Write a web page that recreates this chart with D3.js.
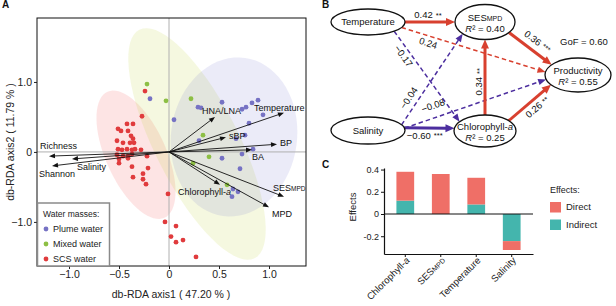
<!DOCTYPE html>
<html>
<head>
<meta charset="utf-8">
<script src="https://cdn.jsdelivr.net/npm/d3@7"></script>
<style>
body { margin: 0; background: #fff; }
svg { font-family: "Liberation Sans", Arial, sans-serif; }
</style>
</head>
<body>
<svg id="chart" width="616" height="306"></svg>
<script>
// PANEL A DATA (db-RDA site scores) ------------------------------------------------
const plumeWater = [[-0.19,0.76],[0.05,0.46],[0.29,0.64],[0.32,0.63],[0.53,0.71],[0.73,0.61],[0.77,0.64],
  [0.83,0.70],[0.89,0.74],[0.94,0.53],[0.80,0.41],[0.30,0.16],[0.76,0.24],[0.67,0.19],[0.84,0.04],
  [0.73,-0.03],[0.53,-0.09],[0.71,-0.24],[0.64,-0.53],[0.69,-0.57],[0.63,-0.64]];
const mixedWater = [[-0.22,0.97],[-0.03,0.73],[0.22,0.76],[0.34,0.24],[0.40,-0.07],[0.24,-0.16],[0.58,-0.47]];
const scsWater = [[-0.24,0.87],[-0.27,0.51],[-0.42,0.40],[-0.36,0.40],[-0.51,0.33],[-0.48,0.30],[-0.41,0.30],
  [-0.38,0.23],[-0.36,0.19],[-0.52,0.16],[-0.46,0.13],[-0.39,0.13],[-0.35,0.13],[-0.51,0.04],[-0.47,0.03],
  [-0.42,0.04],[-0.37,0.03],[-0.34,0.04],[-0.28,0.03],[-0.52,-0.04],[-0.46,-0.06],[-0.41,-0.06],[-0.37,-0.03],
  [-0.22,-0.06],[-0.50,-0.10],[-0.41,-0.09],[-0.50,-0.16],[-0.37,-0.21],[-0.21,-0.23],[-0.26,-0.31],
  [-0.36,-0.36],[-0.26,-0.39],[-0.23,-0.46],[-0.01,-0.60],[-0.04,-1.00],[0.07,-1.06],[0.02,-1.21],
  [0.07,-1.29],[0.14,-1.26],[0.27,-1.50]];

// explanatory vectors (biplot scores)
const envNames = ["HNA/LNA", "Temperature", "sBP", "BP", "BA", "Richness", "Shannon", "Salinity", "Chlorophyll-a", "SESMPD", "MPD"];
const envAxis1 = [0.46, 1.15, 0.57, 1.08, 0.83, -1.20, -1.17, -0.97, 0.51, 1.15, 1.00];
const envAxis2 = [0.50, 0.56, 0.21, 0.11, 0.03, -0.06, -0.20, -0.10, -0.47, -0.64, -0.79];

// group ellipses (centre + two semi-axis vectors, in axis units)
const scsEllipse = { center: [-0.33, -0.04], axisA: [0.285, -0.90], axisB: [0.274, 0.177] };
const mixedEllipse = { center: [0.28, 0.114], axisA: [0.576, -1.633], axisB: [0.375, 0.27] };
const plumeEllipse = { center: [0.65, 0.214], axisA: [0.11, 1.13], axisB: [0.624, -0.126] };

const axisATicksX = [-1, -0.5, 0, 0.5, 1];
const axisATicksY = [-1, 0, 1];

// PANEL B DATA (PLS-PM) ----------------------------------------------------------
const pathFrom = ["Temperature", "SESMPD", "Temperature", "Temperature", "Salinity", "Salinity", "Salinity", "Chlorophyll-a", "Chlorophyll-a"];
const pathTo = ["SESMPD", "Productivity", "Productivity", "Chlorophyll-a", "SESMPD", "Productivity", "Chlorophyll-a", "SESMPD", "Productivity"];
const pathCoef = [0.42, 0.36, 0.24, -0.17, -0.04, -0.08, -0.60, 0.34, 0.26];
const pathSig = ["**", "***", "", "", "", "", "***", "**", "**"];
const nodeR2 = { "SESMPD": 0.40, "Chlorophyll-a": 0.25, "Productivity": 0.55 };
const gof = 0.60;

// PANEL C DATA (effects on productivity) -----------------------------------------
const effectVars = ["Chlorophyll-a", "SESMPD", "Temperature", "Salinity"];
const directEffect = [0.26, 0.36, 0.24, -0.08];
const indirectEffect = [0.12, 0, 0.086, -0.244];
const effectTicks = [-0.2, 0, 0.2, 0.4];

const svg = d3.select("#chart");
const defs = svg.append("defs");

// helper: rich labels with small-caps "MPD" and italic "a"
function richText(sel, name, small) {
    if (name === "SESMPD") {
        sel.append("tspan").text("SES");
        sel.append("tspan").attr("font-size", small).text("MPD");
    } else if (name === "Chlorophyll-a") {
        sel.append("tspan").text("Chlorophyll-");
        sel.append("tspan").attr("font-style", "italic").text("a");
    } else {
        sel.text(name);
    }
}

//PANEL A ---------------------------------------------------------------------------
const xA = d3.scaleLinear().domain([-1.32, 1.37]).range([37, 306]);
const yA = d3.scaleLinear().domain([1.914, -1.63]).range([18, 266]);

defs.append("clipPath").attr("id", "clipA")
    .append("rect").attr("x", 37).attr("y", 18).attr("width", 269).attr("height", 248);

const gA = svg.append("g");
const plotA = gA.append("g").attr("clip-path", "url(#clipA)");

const ellipseLine = d3.line().x(p => xA(p[0])).y(p => yA(p[1])).curve(d3.curveLinearClosed);
const ellipsePts = e => d3.range(72).map(i => {
    const t = i / 72 * 2 * Math.PI;
    return [e.center[0] + Math.cos(t) * e.axisA[0] + Math.sin(t) * e.axisB[0],
            e.center[1] + Math.cos(t) * e.axisA[1] + Math.sin(t) * e.axisB[1]];
});

plotA.append("path").attr("d", ellipseLine(ellipsePts(scsEllipse))).attr("fill", "rgba(240,90,90,0.16)");
plotA.append("path").attr("d", ellipseLine(ellipsePts(mixedEllipse))).attr("fill", "rgba(195,210,60,0.16)");
plotA.append("path").attr("d", ellipseLine(ellipsePts(plumeEllipse))).attr("fill", "rgba(120,120,205,0.15)");

// zero lines
plotA.append("line").attr("x1", xA(0)).attr("x2", xA(0)).attr("y1", 18).attr("y2", 266)
    .attr("stroke", "#b0b0b0").attr("stroke-width", 1);
plotA.append("line").attr("x1", 37).attr("x2", 306).attr("y1", yA(0)).attr("y2", yA(0))
    .attr("stroke", "#b0b0b0").attr("stroke-width", 1);

const groups = [
    { name: "Plume water", pts: plumeWater, color: "#7672c4" },
    { name: "Mixed water", pts: mixedWater, color: "#8dbf44" },
    { name: "SCS water", pts: scsWater, color: "#e03b3d" }
];
groups.forEach(gr => {
    plotA.selectAll(null).data(gr.pts).enter().append("circle")
        .attr("cx", d => xA(d[0])).attr("cy", d => yA(d[1])).attr("r", 2.4)
        .attr("fill", gr.color);
});

// arrows
const labelOffsetA = {
    "HNA/LNA": [-13, -6], "Temperature": [-30, -5], "sBP": [3, -1], "BP": [3, -1], "BA": [0, 7],
    "Richness": [-9, -10], "Shannon": [-13, 8], "Salinity": [5, 8], "Chlorophyll-a": [-42, 7],
    "SESMPD": [-11, -9], "MPD": [3, 7]
};
envNames.forEach((name, i) => {
    const x0 = xA(0), y0 = yA(0), x1 = xA(envAxis1[i]), y1 = yA(envAxis2[i]);
    const len = Math.hypot(x1 - x0, y1 - y0);
    const ux = (x1 - x0) / len, uy = (y1 - y0) / len;
    const hl = 6, hw = 2.4;
    plotA.append("line").attr("x1", x0).attr("y1", y0)
        .attr("x2", x1 - ux * hl * 0.8).attr("y2", y1 - uy * hl * 0.8)
        .attr("stroke", "#111").attr("stroke-width", 0.9);
    const bx = x1 - ux * hl, by = y1 - uy * hl;
    plotA.append("path")
        .attr("d", `M${x1},${y1}L${bx - uy * hw},${by + ux * hw}L${bx + uy * hw},${by - ux * hw}Z`)
        .attr("fill", "#111");
    const off = labelOffsetA[name];
    const t = gA.append("text").attr("x", x1 + off[0]).attr("y", y1 + off[1])
        .attr("dy", "0.35em").attr("font-size", 9).attr("fill", "#111");
    richText(t, name, 6.5);
});

// frame
gA.append("rect").attr("x", 37).attr("y", 18).attr("width", 269).attr("height", 248)
    .attr("fill", "none").attr("stroke", "#111").attr("stroke-width", 1);

// axes
const fmtA = d => d === 0 ? "0" : d3.format(".1f")(d);
const xAxisA = gA.append("g").attr("transform", "translate(0,266)")
    .call(d3.axisBottom(xA).tickValues(axisATicksX).tickFormat(fmtA).tickSize(3).tickPadding(2));
const yAxisA = gA.append("g").attr("transform", "translate(37,0)")
    .call(d3.axisLeft(yA).tickValues(axisATicksY).tickFormat(fmtA).tickSize(3).tickPadding(2));
[xAxisA, yAxisA].forEach(ax => {
    ax.select(".domain").remove();
    ax.selectAll("text").attr("font-size", 10.5).attr("fill", "#222").attr("font-family", null);
    ax.selectAll("line").attr("stroke", "#222");
});

gA.append("text").attr("x", 171).attr("y", 294).attr("dy", "0.35em").attr("text-anchor", "middle")
    .attr("font-size", 10.5).attr("fill", "#222").text("db-RDA axis1 ( 47.20 % )");
gA.append("text").attr("transform", "translate(10,142) rotate(-90)").attr("dy", "0.35em")
    .attr("text-anchor", "middle").attr("font-size", 10.5).attr("fill", "#222").text("db-RDA axis2 ( 11.79 % )");

// legend
const legA = gA.append("g");
legA.append("rect").attr("x", 37.5).attr("y", 203).attr("width", 72).attr("height", 63)
    .attr("fill", "#fff").attr("stroke", "#8a8a8a").attr("stroke-width", 1.5);
legA.append("text").attr("x", 43).attr("y", 214).attr("dy", "0.35em").attr("font-size", 8.5)
    .attr("fill", "#222").text("Water masses:");
groups.forEach((gr, i) => {
    legA.append("circle").attr("cx", 46).attr("cy", 229 + i * 15).attr("r", 2.4).attr("fill", gr.color);
    legA.append("text").attr("x", 53).attr("y", 229 + i * 15).attr("dy", "0.35em")
        .attr("font-size", 9).attr("fill", "#222").text(gr.name);
});

//PANEL B ---------------------------------------------------------------------------
const gB = svg.append("g");
const nodeLayout = {
    "Temperature": { cx: 368, cy: 22, rx: 37, ry: 13 },
    "SESMPD": { cx: 485, cy: 22, rx: 30, ry: 17.5 },
    "Productivity": { cx: 578, cy: 75, rx: 33, ry: 17 },
    "Salinity": { cx: 368, cy: 130.5, rx: 37, ry: 13.5 },
    "Chlorophyll-a": { cx: 485, cy: 131, rx: 31, ry: 16 }
};
// edge anchor angles on the ellipses and label placement (t along, off perpendicular, rotated?)
const edgeLayout = [
    { a0: 0, a1: 180, t: 0.46, off: -7, rot: false },
    { a0: 37, a1: 217, t: 0.53, off: -10, rot: true },
    { a0: 25, a1: 190, t: 0.2, off: 7, rot: true },
    { a0: 45, a1: 215, t: 0.23, off: 7, rot: true },
    { a0: -25, a1: 138, t: 0.24, off: -9, rot: true },
    { a0: -10, a1: 165, t: 0.23, off: -12, rot: true },
    { a0: -12, a1: 190, t: 0.41, off: 8, rot: false },
    { a0: -90, a1: 90, t: 0.44, off: -6, rot: true },
    { a0: -40, a1: 145, t: 0.55, off: 8, rot: true }
];
const redB = "#d8402f", purpleB = "#4c2e9f";
const onEllipse = (n, deg) => {
    const a = deg * Math.PI / 180;
    return [n.cx + n.rx * Math.cos(a), n.cy + n.ry * Math.sin(a)];
};

pathFrom.forEach((from, i) => {
    const lay = edgeLayout[i];
    const p0 = onEllipse(nodeLayout[from], lay.a0);
    const p1 = onEllipse(nodeLayout[pathTo[i]], lay.a1);
    const coef = pathCoef[i];
    const solid = pathSig[i] !== "";
    const color = coef > 0 ? redB : purpleB;
    const len = Math.hypot(p1[0] - p0[0], p1[1] - p0[1]);
    const ux = (p1[0] - p0[0]) / len, uy = (p1[1] - p0[1]) / len;
    const hl = solid ? 9 : 8, hw = solid ? 4 : 3.2;
    gB.append("line").attr("x1", p0[0]).attr("y1", p0[1])
        .attr("x2", p1[0] - ux * hl * 0.8).attr("y2", p1[1] - uy * hl * 0.8)
        .attr("stroke", color).attr("stroke-width", solid ? 3 : 1.5)
        .attr("stroke-dasharray", solid ? null : "4.5,3");
    const bx = p1[0] - ux * hl, by = p1[1] - uy * hl;
    gB.append("path")
        .attr("d", `M${p1[0]},${p1[1]}L${bx - uy * hw},${by + ux * hw}L${bx + uy * hw},${by - ux * hw}Z`)
        .attr("fill", color);
    // coefficient label
    const lx = p0[0] + (p1[0] - p0[0]) * lay.t - uy * lay.off;
    const ly = p0[1] + (p1[1] - p0[1]) * lay.t + ux * lay.off;
    const ang = lay.rot ? Math.atan2(uy, ux) * 180 / Math.PI : 0;
    const lab = gB.append("text").attr("transform", `translate(${lx},${ly}) rotate(${ang})`)
        .attr("text-anchor", "middle").attr("dy", "0.35em").attr("font-size", 9.5).attr("fill", "#111");
    lab.append("tspan").text(d3.format(".2f")(coef).replace("-", "\u2212"));
    if (pathSig[i]) lab.append("tspan").attr("dx", 3).attr("font-size", 7.5).attr("dy", "-0.1em").text(pathSig[i]);
});

Object.keys(nodeLayout).forEach(name => {
    const n = nodeLayout[name];
    gB.append("ellipse").attr("cx", n.cx).attr("cy", n.cy).attr("rx", n.rx).attr("ry", n.ry)
        .attr("fill", "#fff").attr("stroke", "#111").attr("stroke-width", 1.3);
    const hasR2 = nodeR2[name] !== undefined;
    const t = gB.append("text").attr("x", n.cx).attr("y", hasR2 ? n.cy - 4.5 : n.cy)
        .attr("dy", "0.35em").attr("text-anchor", "middle").attr("font-size", 9.5).attr("fill", "#111");
    richText(t, name, 7);
    if (hasR2) {
        const r = gB.append("text").attr("x", n.cx).attr("y", n.cy + 6.5).attr("dy", "0.35em")
            .attr("text-anchor", "middle").attr("font-size", 9.5).attr("fill", "#111");
        r.append("tspan").attr("font-style", "italic").text("R");
        r.append("tspan").text("\u00b2 = " + d3.format(".2f")(nodeR2[name]));
    }
});
gB.append("text").attr("x", 560).attr("y", 42).attr("dy", "0.35em").attr("font-size", 9.5)
    .attr("fill", "#111").text("GoF = " + d3.format(".2f")(gof));

//PANEL C ---------------------------------------------------------------------------
const gC = svg.append("g");
const xC = d3.scaleBand().domain(effectVars).range([384, 533]).paddingInner(0.5).paddingOuter(0.35);
const yC = d3.scaleLinear().domain([-0.36, 0.414]).range([254, 168]);

const effectRows = effectVars.map((v, i) => ({ v, Indirect: indirectEffect[i], Direct: directEffect[i] }));
const stackC = d3.stack().keys(["Indirect", "Direct"]).offset(d3.stackOffsetDiverging)(effectRows);
const effColor = { Direct: "#ef6f67", Indirect: "#44b5ad" };

stackC.forEach(layer => {
    gC.selectAll(null).data(layer).enter().append("rect")
        .attr("x", d => xC(d.data.v)).attr("width", xC.bandwidth())
        .attr("y", d => yC(d[1])).attr("height", d => Math.max(0, yC(d[0]) - yC(d[1])))
        .attr("fill", effColor[layer.key]);
});

// zero line
gC.append("line").attr("x1", 384).attr("x2", 533).attr("y1", yC(0)).attr("y2", yC(0))
    .attr("stroke", "#111").attr("stroke-width", 1);

const yAxisC = gC.append("g").attr("transform", "translate(384,0)")
    .call(d3.axisLeft(yC).tickValues(effectTicks).tickFormat(d => d === 0 ? "0" : d3.format(".1f")(d).replace("\u2212", "-"))
        .tickSize(3).tickPadding(2).tickSizeOuter(0));
const xAxisC = gC.append("g").attr("transform", "translate(0,254)")
    .call(d3.axisBottom(xC).tickFormat("").tickSize(3).tickSizeOuter(0));
[xAxisC, yAxisC].forEach(ax => {
    ax.select(".domain").attr("stroke", "#111").attr("stroke-width", 1.2);
    ax.selectAll("line").attr("stroke", "#111");
    ax.selectAll("text").attr("font-size", 9).attr("fill", "#222").attr("font-family", null);
});

effectVars.forEach(v => {
    const t = gC.append("text").attr("transform", `translate(${xC(v) + xC.bandwidth() / 2 + 5},261) rotate(-45)`)
        .attr("text-anchor", "end").attr("font-size", 9.5).attr("fill", "#222");
    richText(t, v, 7);
});

gC.append("text").attr("transform", "translate(353,207) rotate(-90)").attr("text-anchor", "middle")
    .attr("dy", "0.35em").attr("font-size", 9.5).attr("fill", "#222").text("Effects");

// legend
gC.append("text").attr("x", 550).attr("y", 190).attr("dy", "0.35em").attr("font-size", 9)
    .attr("fill", "#222").text("Effects:");
["Direct", "Indirect"].forEach((k, i) => {
    gC.append("rect").attr("x", 550).attr("y", 202 + i * 17.5).attr("width", 11).attr("height", 10.5)
        .attr("fill", effColor[k]);
    gC.append("text").attr("x", 566).attr("y", 207 + i * 17.5).attr("dy", "0.35em")
        .attr("font-size", 9.5).attr("fill", "#222").text(k);
});

// panel letters
[["A", 2, 8], ["B", 322, 8], ["C", 322, 168]].forEach(([l, x, y]) => {
    svg.append("text").attr("x", x).attr("y", y).attr("font-size", 10).attr("font-weight", "bold")
        .attr("fill", "#111").text(l);
});
</script>
</body>
</html>
